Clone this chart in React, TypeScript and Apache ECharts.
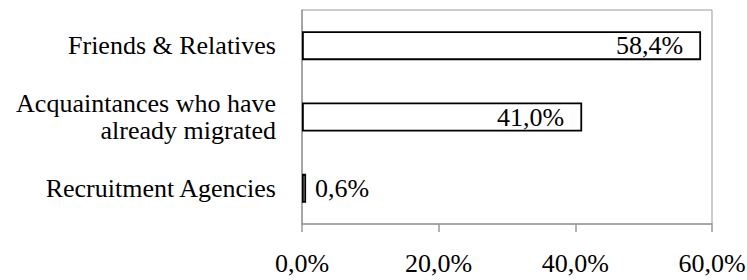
import React, { useEffect, useRef } from "react";
import * as echarts from "echarts";

const categories = [
  "Friends & Relatives",
  "Acquaintances who have\nalready migrated",
  "Recruitment Agencies",
];
const values = [58.4, 41.0, 0.6];
const labelInside = [true, true, false];
const tickMin = 0;
const tickMax = 60;
const tickStep = 20;

const FONT = "Liberation Serif";
const fmt = (v: number) => v.toFixed(1).replace(".", ",") + "%";

export default function App() {
  const ref = useRef<HTMLDivElement>(null);
  useEffect(() => {
    if (!ref.current) return;
    const chart = echarts.init(ref.current, null, { renderer: "svg" });
    chart.setOption({
      animation: false,
      textStyle: { fontFamily: FONT },
      grid: {
        left: 302,
        right: 35,
        top: 10,
        bottom: 56,
        containLabel: false,
        outerBoundsMode: "none",
        show: true,
        borderColor: "#999",
        borderWidth: 1,
        backgroundColor: "transparent",
      },
      xAxis: {
        type: "value",
        min: tickMin,
        max: tickMax,
        interval: tickStep,
        splitLine: { show: false },
        axisLine: { show: true, lineStyle: { color: "#999", width: 1.5 } },
        axisTick: { show: true, length: 8, lineStyle: { color: "#999", width: 1.5 } },
        axisLabel: {
          color: "#000",
          fontFamily: FONT,
          fontSize: 26,
          margin: 26,
          formatter: (v: number) => fmt(v),
        },
      },
      yAxis: {
        type: "category",
        inverse: true,
        data: categories,
        axisLine: { show: true, lineStyle: { color: "#999", width: 1.5 } },
        axisTick: { show: false },
        axisLabel: {
          color: "#000",
          fontFamily: FONT,
          fontSize: 26,
          lineHeight: 27,
          margin: 26,
          align: "right",
        },
      },
      series: [
        {
          type: "bar",
          barWidth: 29,
          data: values.map((v, i) => ({
            value: v,
            label: labelInside[i]
              ? { show: true, position: "insideRight", distance: 18 }
              : { show: true, position: "right", distance: 9 },
          })),
          itemStyle: { color: "#fff", borderColor: "#000", borderWidth: 1.8 },
          label: {
            color: "#000",
            fontFamily: FONT,
            fontSize: 26,
            formatter: (p: any) => fmt(p.value),
          },
        },
      ],
    });
    return () => chart.dispose();
  }, []);
  return (
    <div
      ref={ref}
      style={{ position: "absolute", left: 0, top: 0, width: 747, height: 280 }}
    />
  );
}
